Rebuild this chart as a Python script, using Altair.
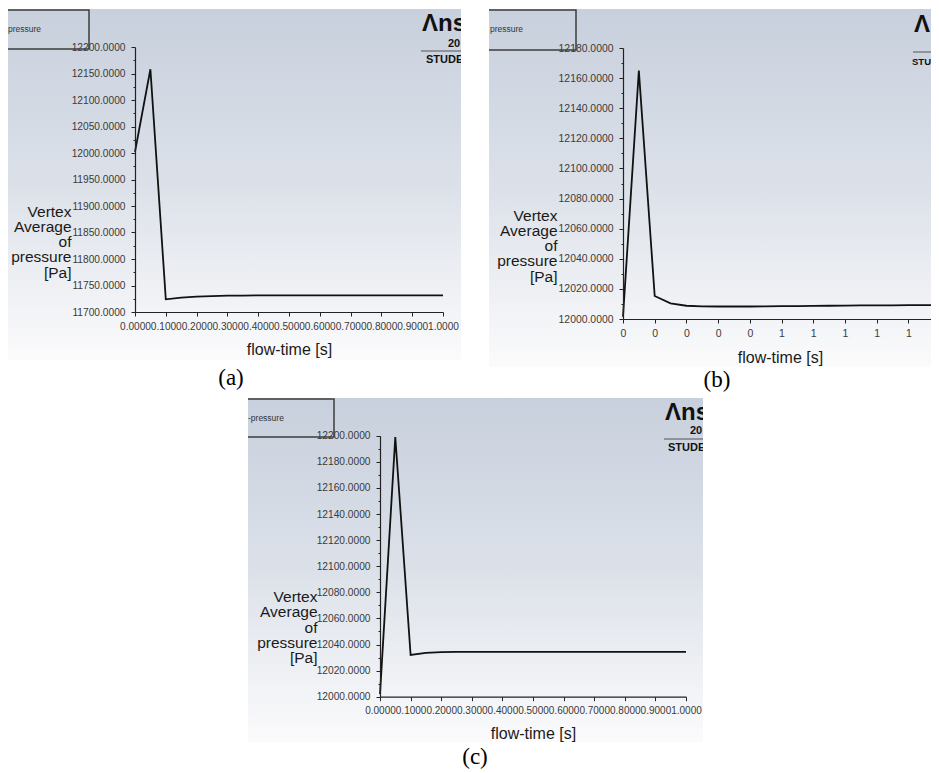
import altair as alt
import pandas as pd

# ---------------- data ----------------
flow_time = [0.00, 0.05, 0.10, 0.15, 0.20, 0.25, 0.30, 0.35, 0.40, 0.45, 0.50,
             0.55, 0.60, 0.65, 0.70, 0.75, 0.80, 0.85, 0.90, 0.95, 1.00]

pressure_a = [12002.0, 12158.0, 11724.0, 11727.0, 11729.0, 11730.0, 11731.0,
              11731.0, 11731.5, 11731.5, 11731.5, 11731.5, 11731.5, 11731.5,
              11731.5, 11731.5, 11731.5, 11731.5, 11731.5, 11731.5, 11731.5]

pressure_b = [12001.5, 12165.0, 12015.3, 12010.4, 12008.8, 12008.4, 12008.3,
              12008.3, 12008.3, 12008.4, 12008.5, 12008.6, 12008.7, 12008.8,
              12008.9, 12009.0, 12009.0, 12009.1, 12009.2, 12009.2, 12009.3]

pressure_c = [12002.0, 12199.0, 12032.0, 12033.6, 12034.2, 12034.3, 12034.3,
              12034.3, 12034.3, 12034.3, 12034.4, 12034.4, 12034.4, 12034.4,
              12034.4, 12034.4, 12034.4, 12034.4, 12034.4, 12034.4, 12034.4]

x_ticks = [0.0, 0.1, 0.2, 0.3, 0.4, 0.5, 0.6, 0.7, 0.8, 0.9, 1.0]

y_ticks_a = [11700, 11750, 11800, 11850, 11900, 11950, 12000, 12050, 12100, 12150, 12200]
y_minor_a = [11725, 11775, 11825, 11875, 11925, 11975, 12025, 12075, 12125, 12175]
y_ticks_b = [12000, 12020, 12040, 12060, 12080, 12100, 12120, 12140, 12160, 12180]
y_minor_b = [12010, 12030, 12050, 12070, 12090, 12110, 12130, 12150, 12170]
y_ticks_c = [12000, 12020, 12040, 12060, 12080, 12100, 12120, 12140, 12160, 12180, 12200]
y_minor_c = [12010, 12030, 12050, 12070, 12090, 12110, 12130, 12150, 12170, 12190]

panel_labels = ["(a)", "(b)", "(c)"]
y_title = ["Vertex", "Average", "of", "pressure", "[Pa]"]
x_title = "flow-time [s]"
legend_texts = ["pressure", "pressure", "-pressure"]
# visible parts of the watermark in each screenshot
logo_texts = [["\u039bns", "20", "STUDE"], ["\u039b", "", "STU"], ["\u039bns", "20", "STUDE"]]

# ---------------- layout (page pixels) ----------------
W, H, M = 923, 761, 8


def f(v):
    return v - M


SANS = "Liberation Sans"
SERIF = "Liberation Serif"
one = alt.Data(values=[{}])

panels = [
    dict(df=pd.DataFrame({"t": flow_time, "p": pressure_a}),
         box=(7, 9, 461, 360), xr=(135, 443), yr=(312, 47), ydom=[11700, 12200],
         yt=y_ticks_a, ym=y_minor_a, xfmt=".4f", xfs=10.1, yfs=10.2,
         ytx=-64, yty=211, xtx=289, xty=37,
         leg=(2, 10, 89, 49), legtxt=(8, 29),
         logo=(422, 24, 448, 44, 421, 51, 426, 60), logofs=11, label=(231, 378)),
    dict(df=pd.DataFrame({"t": flow_time, "p": pressure_b}),
         box=(489, 9, 945, 367), xr=(623, 940), yr=(319, 48), ydom=[12000, 12180],
         yt=y_ticks_b, ym=y_minor_b, xfmt=".0f", xfs=10.5, yfs=10.4,
         ytx=-66, yty=215, xtx=780, xty=38,
         leg=(484, 10, 576, 50), legtxt=(490, 29),
         logo=(914, 25, 943, 44, 913, 52, 912, 62), logofs=9.5, label=(717, 380)),
    dict(df=pd.DataFrame({"t": flow_time, "p": pressure_c}),
         box=(248, 398, 703, 742), xr=(380, 686), yr=(696.7, 435.7), ydom=[12000, 12200],
         yt=y_ticks_c, ym=y_minor_c, xfmt=".4f", xfs=10.0, yfs=10.2,
         ytx=-63, yty=596.7, xtx=533, xty=36.7,
         leg=(244, 399, 334, 437), legtxt=(248, 418),
         logo=(665, 413, 690, 431, 664, 439, 668, 448), logofs=11, label=(475, 757)),
]

grad = alt.LinearGradient(
    gradient="linear",
    stops=[alt.GradientStop(color="#c8d0dd", offset=0),
           alt.GradientStop(color="#dce1e9", offset=0.5),
           alt.GradientStop(color="#fbfbfc", offset=1)],
    x1=0, x2=0, y1=0, y2=1)

bg_layers, line_layers, deco_layers = [], [], []

for i, g in enumerate(panels):
    x0, y0, x1, y1 = g["box"]
    bg_layers.append(
        alt.Chart(one).mark_rect(fill=grad).encode(
            x=alt.value(f(x0)), x2=alt.value(f(x1)),
            y=alt.value(f(y0)), y2=alt.value(f(y1))))

    xs = alt.Scale(domain=[0, 1], range=[f(g["xr"][0]), f(g["xr"][1])], nice=False, zero=False)
    ys = alt.Scale(domain=g["ydom"], range=[f(g["yr"][0]), f(g["yr"][1])], nice=False, zero=False)
    y_off = -f(g["xr"][0])
    x_off = f(g["yr"][0]) - H

    x_axis = alt.Axis(orient="bottom", offset=x_off, values=x_ticks, format=g["xfmt"],
                      grid=False, tickSize=4, tickColor="#222", tickWidth=1,
                      domainColor="#222", domainWidth=1.2,
                      labelFont=SANS, labelFontSize=g["xfs"], labelColor="#3a3a3a",
                      labelPadding=5, labelOverlap=False, labelFlush=False,
                      labelBound=False,
                      title=x_title, titleFont=SANS, titleFontSize=16,
                      titleFontWeight="normal", titleColor="#1a1a1a",
                      titleX=f(g["xtx"]), titleY=g["xty"], titleAlign="center",
                      titleBaseline="middle", titleAngle=0, zindex=1)
    y_axis = alt.Axis(orient="left", offset=y_off, values=g["yt"], format=".4f",
                      grid=False, tickSize=4, tickColor="#222", tickWidth=1,
                      domainColor="#222", domainWidth=1.2,
                      labelFont=SANS, labelFontSize=g["yfs"], labelColor="#3a3a3a",
                      labelPadding=6, labelOverlap=False, labelFlush=False,
                      labelBound=False,
                      title=y_title, titleFont=SANS, titleFontSize=15.5,
                      titleFontWeight="normal", titleColor="#1a1a1a",
                      titleLineHeight=15.3, titleAngle=0, titleAlign="right",
                      titleBaseline="middle", titleX=g["ytx"], titleY=f(g["yty"]),
                      zindex=1)
    line_layers.append(
        alt.Chart(g["df"]).mark_line(color="#111111", strokeWidth=1.8).encode(
            x=alt.X("t:Q", scale=xs, axis=x_axis),
            y=alt.Y("p:Q", scale=ys, axis=y_axis)))
    minor_axis = alt.Axis(orient="left", offset=y_off, values=g["ym"], grid=False,
                          tickSize=2, tickColor="#222", tickWidth=1, labels=False,
                          domain=False, title="", zindex=1)
    line_layers.append(
        alt.Chart(g["df"]).mark_line(opacity=0).encode(
            x=alt.X("t:Q", scale=xs, axis=None),
            y=alt.Y("p:Q", scale=ys, axis=minor_axis)))

    lx0, ly0, lx1, ly1 = g["leg"]
    deco_layers.append(
        alt.Chart(one).mark_rect(fill="transparent", stroke="#3c3c3c", strokeWidth=1.5).encode(
            x=alt.value(f(lx0)), x2=alt.value(f(lx1)),
            y=alt.value(f(ly0)), y2=alt.value(f(ly1))))
    deco_layers.append(
        alt.Chart(one).mark_text(text=legend_texts[i], font=SANS, fontSize=8.5,
                                 color="#333", align="left", baseline="middle").encode(
            x=alt.value(f(g["legtxt"][0])), y=alt.value(f(g["legtxt"][1]))))

    ax, ay, bx, by, rx, ry, sx, sy = g["logo"]
    big, year, stud = logo_texts[i]
    deco_layers.append(
        alt.Chart(one).mark_text(text=big, font=SANS, fontSize=24, fontWeight="bold",
                                 color="#111", align="left", baseline="middle").encode(
            x=alt.value(f(ax)), y=alt.value(f(ay))))
    if year:
        deco_layers.append(
            alt.Chart(one).mark_text(text=year, font=SANS, fontSize=11, fontWeight="bold",
                                     color="#111", align="left", baseline="middle").encode(
                x=alt.value(f(bx)), y=alt.value(f(by))))
    deco_layers.append(
        alt.Chart(one).mark_rule(color="#555", strokeWidth=1.2).encode(
            x=alt.value(f(rx)), x2=alt.value(f(rx + 60)), y=alt.value(f(ry))))
    deco_layers.append(
        alt.Chart(one).mark_text(text=stud, font=SANS, fontSize=g["logofs"], fontWeight="bold",
                                 color="#111", align="left", baseline="middle").encode(
            x=alt.value(f(sx)), y=alt.value(f(sy))))

# white gaps that trim what runs past a screenshot's edge
clips = [(461, 0, 489, 70), (703, 396, 740, 470), (230, 396, 248, 445)]
for cx0, cy0, cx1, cy1 in clips:
    deco_layers.append(
        alt.Chart(one).mark_rect(fill="white").encode(
            x=alt.value(f(cx0)), x2=alt.value(f(cx1)),
            y=alt.value(f(cy0)), y2=alt.value(f(cy1))))

for i, g in enumerate(panels):
    deco_layers.append(
        alt.Chart(one).mark_text(text=panel_labels[i], font=SERIF, fontSize=23,
                                 color="#000", align="center", baseline="middle").encode(
            x=alt.value(f(g["label"][0])), y=alt.value(f(g["label"][1]))))

chart = alt.layer(*bg_layers, *line_layers, *deco_layers).resolve_scale(
    x="independent", y="independent"
).properties(
    width=W, height=H, padding=0,
    autosize=alt.AutoSizeParams(type="none"),
    background="white",
).configure_view(strokeWidth=0)

chart.save("out.html", embed_options={"renderer": "svg", "actions": False})
